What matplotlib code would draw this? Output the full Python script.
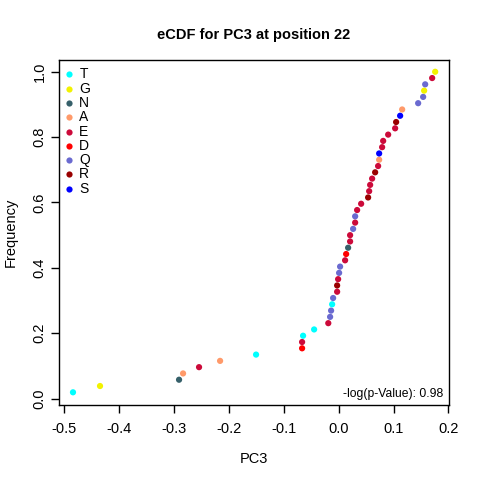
import matplotlib
matplotlib.use("Agg")
import matplotlib.pyplot as plt

plt.rcParams['font.family'] = ['Liberation Sans', 'DejaVu Sans']

# PC3 values, sorted, and the residue at each point
pc3 = [-0.4836, -0.4344, -0.2905, -0.2832, -0.2541, -0.2158, -0.1503, -0.0665,
       -0.0665, -0.0647, -0.0446, -0.0188, -0.0155, -0.0137, -0.0118, -0.0100,
       -0.0027, -0.0027, -0.0009, 0.0009, 0.0027, 0.0118, 0.0137, 0.0173,
       0.0209, 0.0209, 0.0264, 0.0301, 0.0301, 0.0337, 0.0410, 0.0537,
       0.0556, 0.0574, 0.0610, 0.0665, 0.0719, 0.0738, 0.0738, 0.0792,
       0.0811, 0.0902, 0.1029, 0.1047, 0.1120, 0.1157, 0.1448, 0.1539,
       0.1557, 0.1576, 0.1703, 0.1758]
residues = ['T', 'G', 'N', 'A', 'E', 'A', 'T', 'D',
            'E', 'T', 'T', 'E', 'Q', 'Q', 'T', 'Q',
            'E', 'R', 'E', 'Q', 'Q', 'E', 'D', 'N',
            'E', 'E', 'Q', 'E', 'Q', 'E', 'E', 'R',
            'E', 'E', 'E', 'R', 'E', 'A', 'S', 'E',
            'E', 'E', 'E', 'R', 'S', 'A', 'Q', 'Q',
            'G', 'Q', 'E', 'G']

legend_order = ['T', 'G', 'N', 'A', 'E', 'D', 'Q', 'R', 'S']
colours = {'T': '#00FFFF', 'G': '#F2F200', 'N': '#36606A', 'A': '#FF9A6A',
           'E': '#CC0A3A', 'D': '#FF0000', 'Q': '#6A6AD0', 'R': '#990000',
           'S': '#0000FF'}
p_value_text = "-log(p-Value): 0.98"

n = len(pc3)
freq = [(i + 1) / n for i in range(n)]

fig = plt.figure(figsize=(4.8, 4.8), dpi=100)
ax = fig.add_axes([0.123, 0.156, 0.812, 0.719])

ax.scatter(pc3, freq, c=[colours[r] for r in residues], s=20, linewidths=0, zorder=3)

ax.set_xlim(-0.509, 0.2006)
ax.set_ylim(-0.02, 1.036)
ax.set_xticks([-0.5, -0.4, -0.3, -0.2, -0.1, 0.0, 0.1, 0.2])
ax.set_xticklabels(['-0.5', '-0.4', '-0.3', '-0.2', '-0.1', '0.0', '0.1', '0.2'])
ax.set_yticks([0.0, 0.2, 0.4, 0.6, 0.8, 1.0])
ax.set_yticklabels(['0.0', '0.2', '0.4', '0.6', '0.8', '1.0'], rotation=90, va='center')
ax.tick_params(direction='out', length=6, width=1, labelsize=10.5)
ax.tick_params(axis='x', pad=6)
ax.tick_params(axis='y', pad=3)
for sp in ax.spines.values():
    sp.set_linewidth(1)

ax.set_title("eCDF for PC3 at position 22", fontsize=10.5, fontweight='bold', pad=15)
ax.set_xlabel("PC3", fontsize=10.5, labelpad=12)
ax.set_ylabel("Frequency", fontsize=10.5, labelpad=11)

# legend, drawn row by row like R's legend(bty="n")
for i, r in enumerate(legend_order):
    yy = 0.9586 - i * 0.04145
    ax.scatter([0.0256], [yy], c=colours[r], s=20, linewidths=0,
               transform=ax.transAxes, clip_on=False)
    ax.text(0.052, yy, r, transform=ax.transAxes, ha='left', va='center',
            fontsize=10)

ax.text(0.9854, 0.032, p_value_text, transform=ax.transAxes, ha='right', va='center',
        fontsize=8.7)

fig.savefig("out.png", dpi=100)
